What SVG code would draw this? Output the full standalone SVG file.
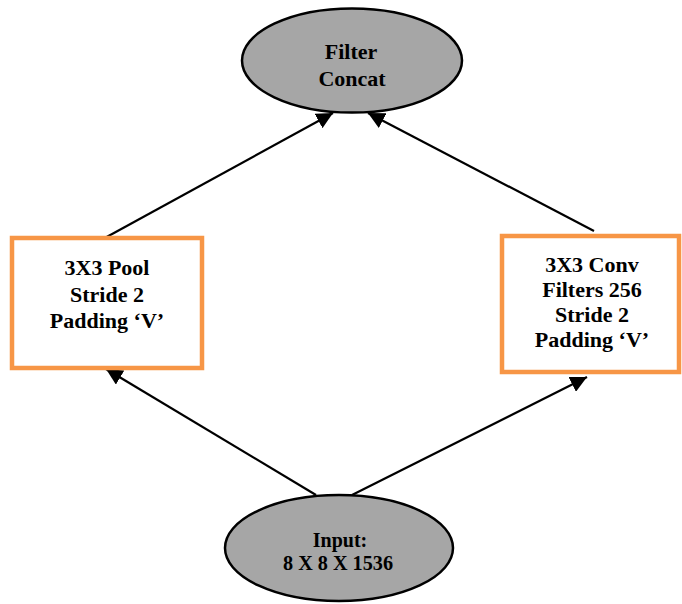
<svg xmlns="http://www.w3.org/2000/svg" width="682" height="604" viewBox="0 0 682 604">
  <style>
    .oval { fill: #a6a6a6; stroke: #000; stroke-width: 2.5; }
    .box { fill: #fff; stroke: #f79646; stroke-width: 4.5; }
    .lbl { font-family: "Liberation Serif", "Times New Roman", serif; font-weight: bold; font-size: 22px; fill: #000; text-anchor: middle; }
    .small { font-size: 20px; }
    .edge { stroke: #000; stroke-width: 2.2; fill: none; marker-end: url(#tip); }
  </style>
  <defs>
    <marker id="tip" viewBox="0 0 10 10" refX="10" refY="5" markerWidth="7.5" markerHeight="7.5" markerUnits="strokeWidth" orient="auto">
      <path d="M0,0 L10,5 L0,10 Z" fill="#000"/>
    </marker>
  </defs>
  <rect width="682" height="604" fill="#fff"/>

  <g id="edges">
    <line class="edge" x1="103" y1="239" x2="333" y2="113"/>
    <line class="edge" x1="594" y1="231" x2="368" y2="113"/>
    <line class="edge" x1="316" y1="495" x2="106" y2="369"/>
    <line class="edge" x1="352" y1="495" x2="587" y2="377"/>
  </g>

  <g id="filter-concat">
    <ellipse class="oval" cx="352" cy="60.5" rx="110" ry="52"/>
    <text class="lbl" x="351" y="59">Filter</text>
    <text class="lbl" x="352" y="86">Concat</text>
  </g>

  <g id="pool">
    <rect class="box" x="12" y="238" width="190" height="130"/>
    <text class="lbl" x="107" y="275">3X3 Pool</text>
    <text class="lbl" x="107" y="302">Stride 2</text>
    <text class="lbl" x="107" y="328">Padding ‘V’</text>
  </g>

  <g id="conv">
    <rect class="box" x="502" y="236" width="177" height="136"/>
    <text class="lbl" x="592" y="272">3X3 Conv</text>
    <text class="lbl" x="592" y="297">Filters 256</text>
    <text class="lbl" x="592" y="322">Stride 2</text>
    <text class="lbl" x="592" y="347">Padding ‘V’</text>
  </g>

  <g id="input">
    <ellipse class="oval" cx="339" cy="548" rx="114" ry="53"/>
    <text class="lbl small" x="340" y="547">Input:</text>
    <text class="lbl small" x="338" y="570" textLength="110" lengthAdjust="spacingAndGlyphs">8 X 8 X 1536</text>
  </g>
</svg>
